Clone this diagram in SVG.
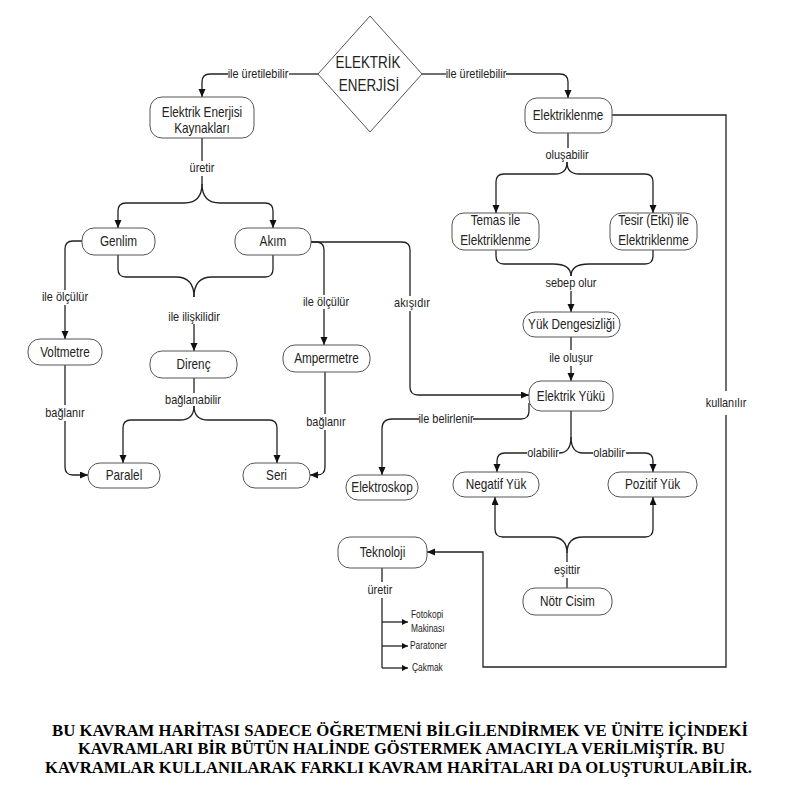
<svg xmlns="http://www.w3.org/2000/svg" width="796" height="807" viewBox="0 0 796 807">
<style>
.bg{fill:#fff}
.n rect,.n polygon{fill:#fff;stroke:#555;stroke-width:1}
.t,.e,.s{font-family:"Liberation Sans",Arial,sans-serif;fill:#222;transform-box:fill-box;transform:scaleX(0.84)}
.t{font-size:14px;text-anchor:middle;transform-origin:center}
.d{font-size:16px}
.e{font-size:13px;text-anchor:middle;transform-origin:center}
.s{font-size:10px;transform-origin:left center}
.c path{fill:none;stroke:#222;stroke-width:1.3}
.a{marker-end:url(#ah)}
.sa{marker-end:url(#sah)}
.cap{font-family:"Liberation Serif","Times New Roman",serif;font-size:16.5px;font-weight:bold;fill:#000}
</style>
<defs>
<marker id="ah" markerUnits="userSpaceOnUse" markerWidth="9" markerHeight="8" refX="8" refY="3.5" orient="auto"><path d="M0,0 L8,3.5 L0,7 z" fill="#111"/></marker>
<marker id="sah" markerUnits="userSpaceOnUse" markerWidth="8" markerHeight="7" refX="6" refY="3" orient="auto"><path d="M0,0 L6,3 L0,6 z" fill="#111"/></marker>
</defs>
<rect class="bg" x="0" y="0" width="796" height="807"/>

<g id="connectors" class="c">
<path d="M318,74 L289,74"/><path class="a" d="M228,74 L210,74 Q202,74 202,82 L202,97"/>
<path d="M422,74 L446,74"/><path class="a" d="M506,74 L560,74 Q568,74 568,82 L568,98"/>
<path d="M202,138 L202,161"/>
<path class="a" d="M202,176 L202,184 Q202,203 184,203 L126,203 Q118,203 118,211 L118,228"/>
<path class="a" d="M202,184 Q202,203 220,203 L265,203 Q273,203 273,211 L273,228"/>
<path d="M118,255 L118,269 Q118,277 126,277 L176,277 Q194,277 194,297"/>
<path d="M273,255 L273,269 Q273,277 265,277 L212,277 Q194,277 194,297"/>
<path class="a" d="M194,324 L194,351"/>
<path d="M82,241 L73,241 Q65,241 65,249 L65,290"/><path class="a" d="M65,305 L65,339"/>
<path d="M311,242 L316,242 Q324,242 324,250 L324,295"/><path class="a" d="M324,309 L324,345"/>
<path d="M311,242 L402,242 Q410,242 410,250 L410,296"/><path class="a" d="M410,311 L410,387 Q410,395 418,395 L529,395"/>
<path d="M65,365 L65,405"/><path class="a" d="M65,421 L65,467 Q65,475 73,475 L88,475"/>
<path d="M194,378 L194,393"/>
<path class="a" d="M194,406 Q194,420 180,420 L131,420 Q123,420 123,428 L123,463"/>
<path class="a" d="M194,406 Q194,420 208,420 L269,420 Q277,420 277,428 L277,463"/>
<path d="M325,372 L325,414"/><path class="a" d="M325,430 L325,467 Q325,475 317,475 L310,475"/>
<path d="M568,133 L568,148"/>
<path class="a" d="M567,162 Q567,174 555,174 L504,174 Q496,174 496,182 L496,213"/>
<path class="a" d="M567,162 Q567,174 579,174 L645,174 Q653,174 653,182 L653,213"/>
<path d="M496,250 L496,256 Q496,264 504,264 L553,264 Q571,264 571,276"/>
<path d="M653,250 L653,256 Q653,264 645,264 L589,264 Q571,264 571,276"/>
<path class="a" d="M571,291 L571,312"/>
<path d="M571,337 L571,350"/><path class="a" d="M571,366 L571,381"/>
<path d="M529,403 L529,411 Q529,419 521,419 L473,419"/><path class="a" d="M419,419 L392,419 Q382,419 382,429 L382,475"/>
<path d="M571,411 L571,437 Q571,453 559,453"/><path class="a" d="M527,453 L505,453 Q497,453 497,461 L497,472"/>
<path d="M571,437 Q571,453 583,453 L593,453"/><path class="a" d="M626,453 L645,453 Q653,453 653,461 L653,472"/>
<path d="M567,588 L567,578"/>
<path class="a" d="M567,562 L567,553 Q567,537 551,537 L503,537 Q495,537 495,529 L495,497"/>
<path class="a" d="M567,553 Q567,537 583,537 L645,537 Q653,537 653,529 L653,497"/>
<path d="M612,115 L726,115 L726,391"/><path class="a" d="M726,415 L726,667 L483,667 L483,552 L427,552"/>
<path d="M382,568 L382,582"/><path d="M382,598 L382,668"/>
<path class="sa" d="M382,622 L408,622"/><path class="sa" d="M382,646 L408,646"/><path class="sa" d="M382,668 L408,668"/>
</g>

<g id="edge-labels">
<text class="e" x="258" y="78">ile üretilebilir</text>
<text class="e" x="476" y="78">ile üretilebilir</text>
<text class="e" x="202" y="172">üretir</text>
<text class="e" x="194" y="321">ile ilişkilidir</text>
<text class="e" x="65" y="301">ile ölçülür</text>
<text class="e" x="326" y="306">ile ölçülür</text>
<text class="e" x="412" y="307">akışıdır</text>
<text class="e" x="65" y="417">bağlanır</text>
<text class="e" x="193" y="404">bağlanabilir</text>
<text class="e" x="326" y="426">bağlanır</text>
<text class="e" x="567" y="159">oluşabilir</text>
<text class="e" x="571" y="287">sebep olur</text>
<text class="e" x="571" y="362">ile oluşur</text>
<text class="e" x="446" y="423">ile belirlenir</text>
<text class="e" x="543" y="457">olabilir</text>
<text class="e" x="609" y="457">olabilir</text>
<text class="e" x="567" y="574">eşittir</text>
<text class="e" x="726" y="407">kullanılır</text>
<text class="e" x="380" y="594">üretir</text>
</g>

<g id="elektrik-enerjisi" class="n"><polygon points="370,16 422,74 370,132 318,74"/><text class="t d" x="368" y="68">ELEKTRİK</text><text class="t d" x="369" y="91">ENERJİSİ</text></g>
<g id="kaynaklar" class="n"><rect x="150" y="97" width="104" height="41" rx="12"/><text class="t" x="202" y="117">Elektrik Enerjisi</text><text class="t" x="202" y="133">Kaynakları</text></g>
<g id="elektriklenme" class="n"><rect x="525" y="98" width="87" height="35" rx="12"/><text class="t" x="568" y="120">Elektriklenme</text></g>
<g id="gerilim" class="n"><rect x="82" y="228" width="73" height="27" rx="12"/><text class="t" x="118.5" y="246">Genlim</text></g>
<g id="akim" class="n"><rect x="235" y="228" width="76" height="27" rx="12"/><text class="t" x="273" y="246">Akım</text></g>
<g id="temas" class="n"><rect x="452" y="213" width="87" height="37" rx="12"/><text class="t" x="495.5" y="225">Temas ile</text><text class="t" x="495.5" y="245">Elektriklenme</text></g>
<g id="tesir" class="n"><rect x="610" y="213" width="87" height="37" rx="12"/><text class="t" x="653.5" y="225">Tesir (Etki) ile</text><text class="t" x="653.5" y="245">Elektriklenme</text></g>
<g id="yuk-dengesizligi" class="n"><rect x="523" y="312" width="97" height="25" rx="12"/><text class="t" x="571.5" y="329">Yük Dengesizliği</text></g>
<g id="voltmetre" class="n"><rect x="28" y="339" width="74" height="26" rx="12"/><text class="t" x="65" y="357">Voltmetre</text></g>
<g id="direnc" class="n"><rect x="150" y="351" width="87" height="27" rx="12"/><text class="t" x="193.5" y="369">Direnç</text></g>
<g id="ampermetre" class="n"><rect x="283" y="345" width="87" height="27" rx="12"/><text class="t" x="326.5" y="363">Ampermetre</text></g>
<g id="elektrik-yuku" class="n"><rect x="529" y="381" width="84" height="30" rx="12"/><text class="t" x="571" y="401">Elektrik Yükü</text></g>
<g id="paralel" class="n"><rect x="88" y="463" width="72" height="25" rx="12"/><text class="t" x="124" y="480">Paralel</text></g>
<g id="seri" class="n"><rect x="243" y="463" width="67" height="25" rx="12"/><text class="t" x="276.5" y="480">Seri</text></g>
<g id="elektroskop" class="n"><rect x="346" y="475" width="72" height="25" rx="12"/><text class="t" x="382" y="492">Elektroskop</text></g>
<g id="negatif" class="n"><rect x="453" y="472" width="86" height="25" rx="12"/><text class="t" x="496" y="489">Negatif Yük</text></g>
<g id="pozitif" class="n"><rect x="608" y="472" width="89" height="25" rx="12"/><text class="t" x="652.5" y="489">Pozitif Yük</text></g>
<g id="teknoloji" class="n"><rect x="338" y="537" width="89" height="31" rx="12"/><text class="t" x="382.5" y="557">Teknoloji</text></g>
<g id="notr" class="n"><rect x="523" y="588" width="89" height="27" rx="12"/><text class="t" x="567.5" y="606">Nötr Cisim</text></g>
<g id="urunler">
<text class="s" x="411" y="618">Fotokopi</text><text class="s" x="411" y="632">Makinası</text>
<text class="s" x="410" y="649">Paratoner</text>
<text class="s" x="412" y="671">Çakmak</text>
</g>

<g id="caption">
<text class="cap" x="52" y="736" textLength="696" lengthAdjust="spacingAndGlyphs">BU KAVRAM HARİTASI SADECE ÖĞRETMENİ BİLGİLENDİRMEK VE ÜNİTE İÇİNDEKİ</text>
<text class="cap" x="78" y="754" textLength="647" lengthAdjust="spacingAndGlyphs">KAVRAMLARI BİR BÜTÜN HALİNDE GÖSTERMEK AMACIYLA VERİLMİŞTİR. BU</text>
<text class="cap" x="45" y="773" textLength="707" lengthAdjust="spacingAndGlyphs">KAVRAMLAR KULLANILARAK FARKLI KAVRAM HARİTALARI DA OLUŞTURULABİLİR.</text>
</g>
</svg>
